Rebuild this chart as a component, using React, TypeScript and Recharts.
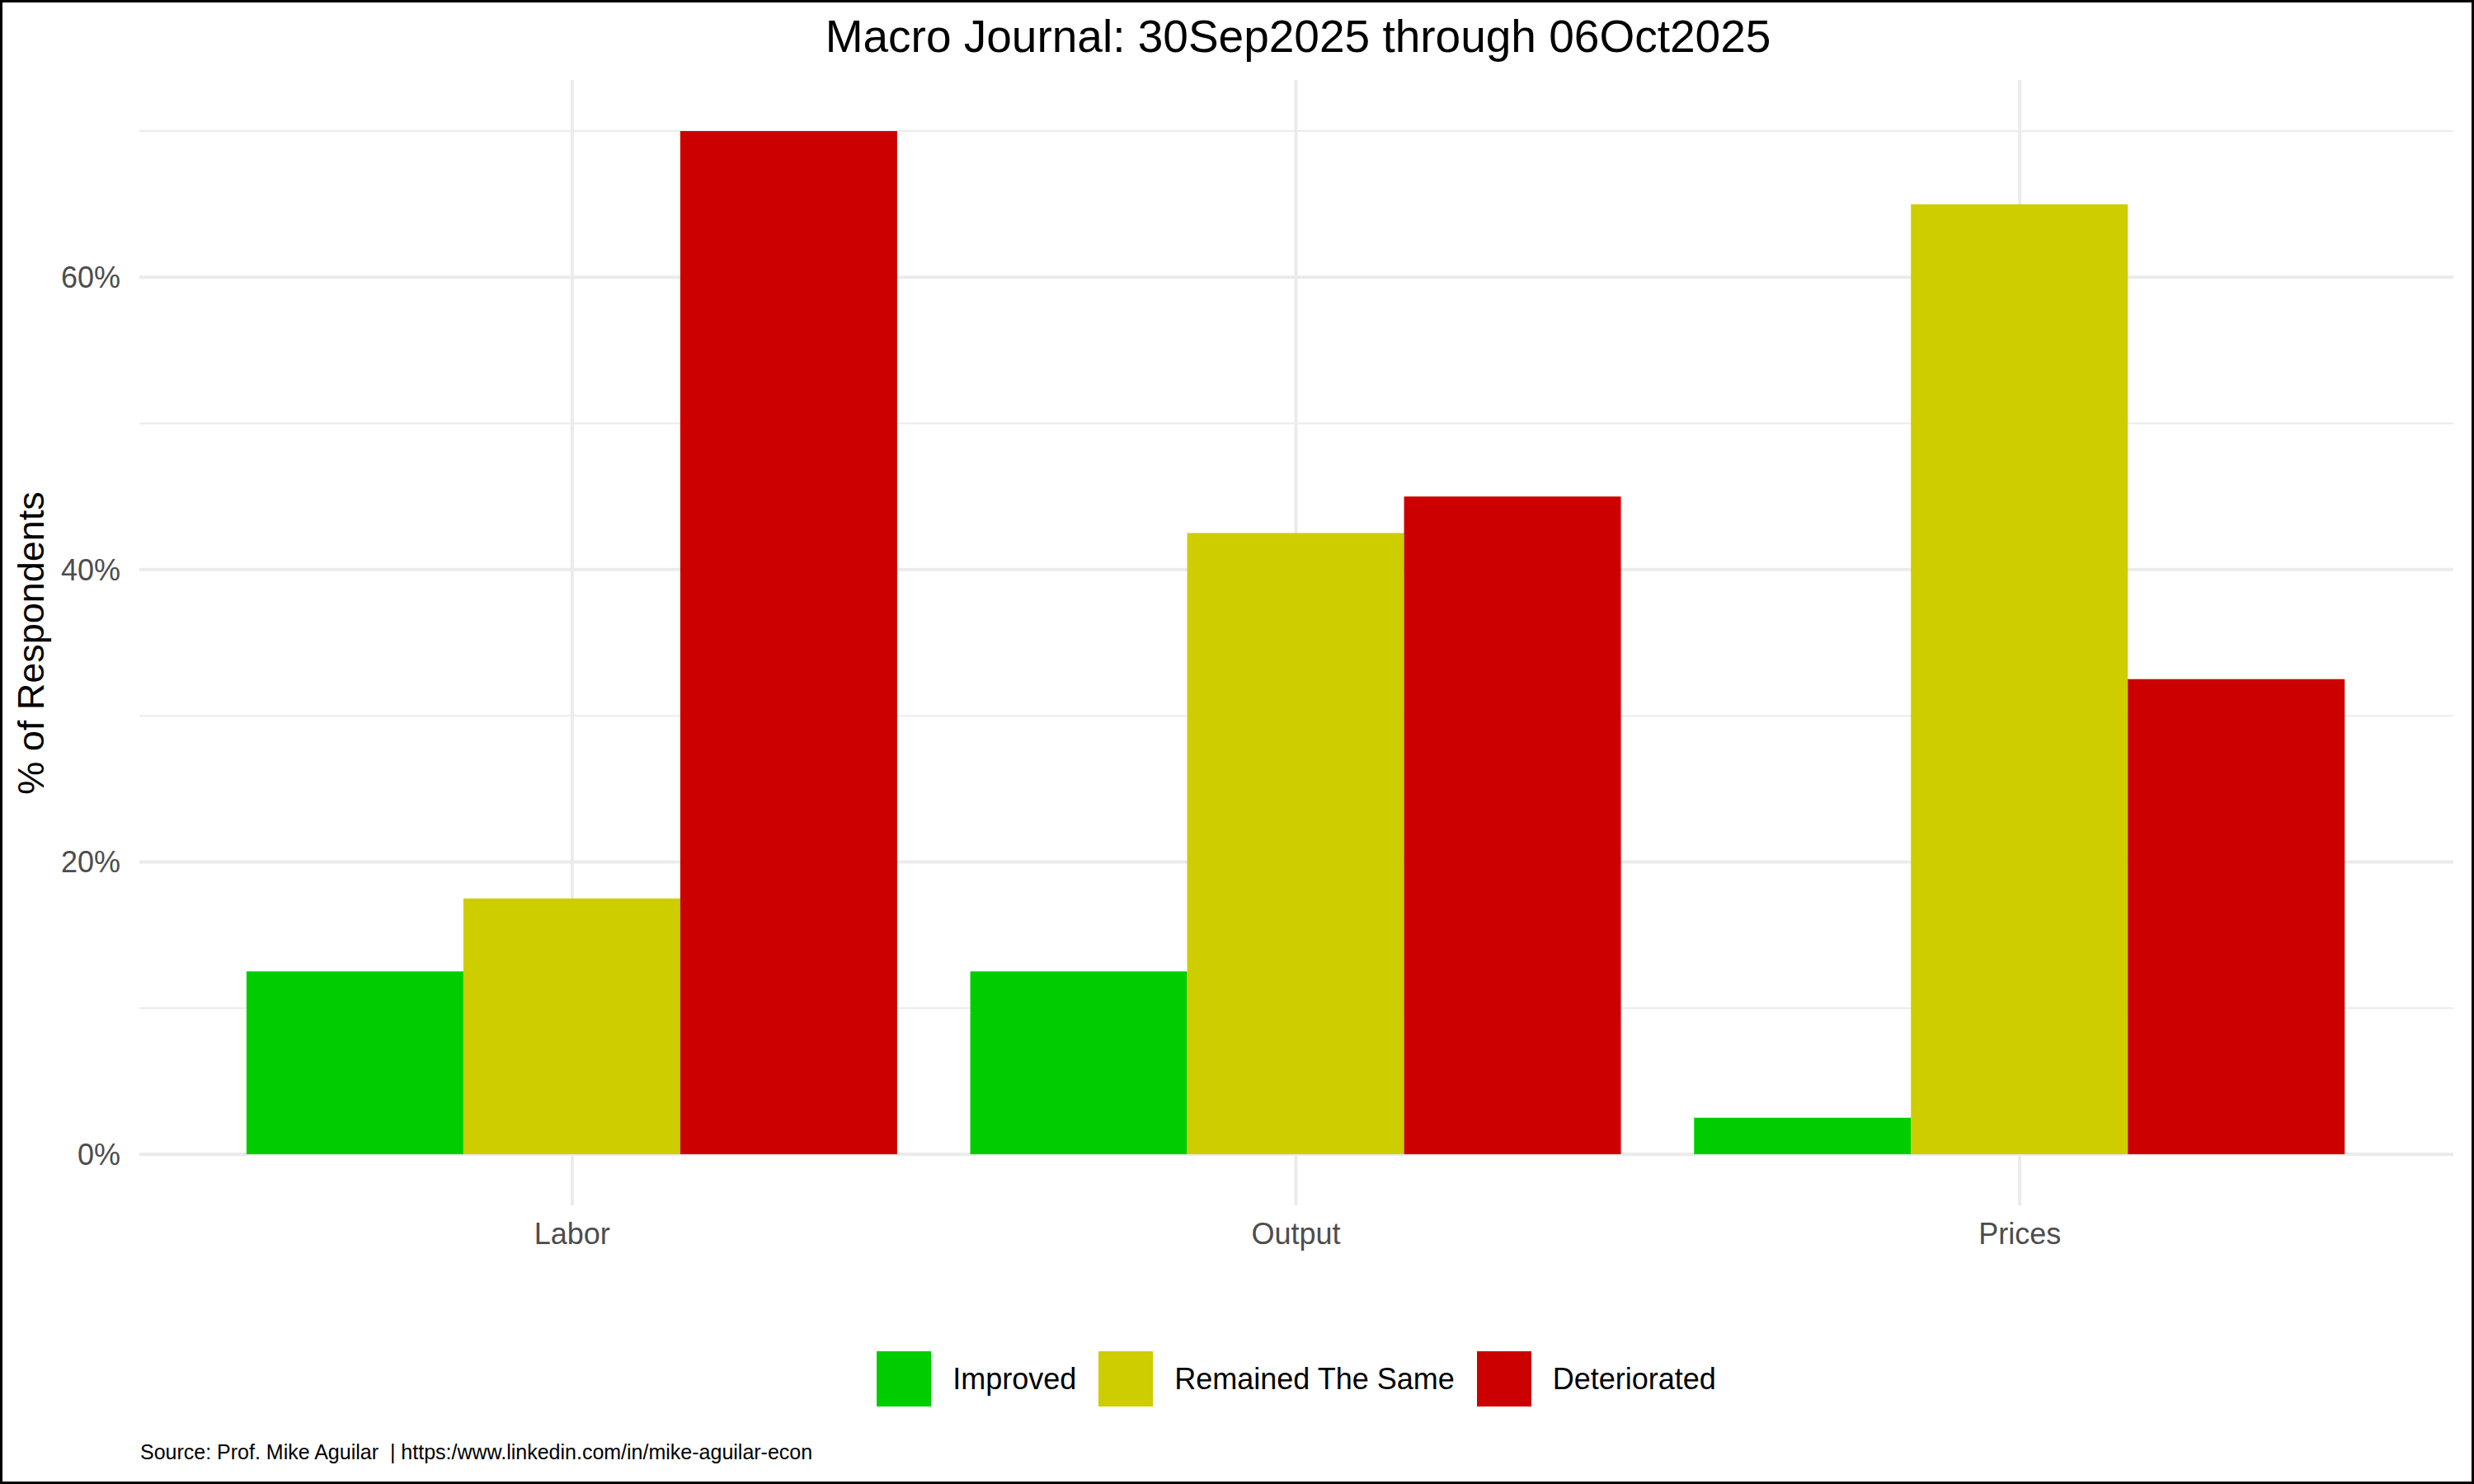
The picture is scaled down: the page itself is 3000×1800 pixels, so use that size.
import { Bar, BarChart, CartesianGrid, Legend, XAxis, YAxis } from 'recharts';

const categories = ['Labor', 'Output', 'Prices'];
const improved = [12.5, 12.5, 2.5];
const remained = [17.5, 42.5, 65];
const deteriorated = [70, 45, 32.5];
const majorTicks = [0, 20, 40, 60];
const minorTicks = [10, 30, 50, 70];
const seriesNames = ['Improved', 'Remained The Same', 'Deteriorated'];
const seriesColors = ['#00CD00', '#CDCD00', '#CD0000'];

const data = categories.map((c, i) => ({
  category: c,
  improved: improved[i],
  remained: remained[i],
  deteriorated: deteriorated[i],
}));

const FONT = '"Liberation Sans", Arial, sans-serif';
const GRID = '#EBEBEB';

function LegendBox({ payload = [] }: any) {
  // keep the order of the series, not alphabetical
  const items = [...payload].sort((a: any, b: any) => seriesNames.indexOf(a.value) - seriesNames.indexOf(b.value));
  return (
    <div style={{ display: 'flex', justifyContent: 'center', alignItems: 'center', height: 67, fontFamily: FONT }}>
      {items.map((p: any, i: number) => (
        <div key={p.value} style={{ display: 'flex', alignItems: 'center', marginRight: i < items.length - 1 ? 27 : 0 }}>
          <div style={{ width: 66, height: 67, background: p.color, marginRight: 26 }} />
          <span style={{ fontSize: 36, color: '#000', whiteSpace: 'nowrap' }}>{p.value}</span>
        </div>
      ))}
    </div>
  );
}

export default function App() {
  return (
    <div style={{ position: 'absolute', left: 0, top: 0, width: 3000, height: 1800, background: '#fff', fontFamily: FONT }}>
      <BarChart
        width={3000}
        height={1800}
        data={data}
        margin={{ top: 97, right: 25, bottom: 278, left: 69 }}
        barCategoryGap="5%"
        barGap={0}
      >
        {/* minor lines thinner than the major ones */}
        <CartesianGrid stroke={GRID} strokeWidth={2} vertical={false} horizontalValues={minorTicks} />
        <CartesianGrid stroke={GRID} strokeWidth={4} syncWithTicks />
        <XAxis
          dataKey="category"
          height={60}
          padding={{ left: 86, right: 87 }}
          tickLine={false}
          axisLine={false}
          tickMargin={15}
          tick={{ fontSize: 36, fill: '#4D4D4D' }}
        />
        <YAxis
          width={100}
          domain={[-3.5, 73.5]}
          ticks={majorTicks}
          tickFormatter={(v) => `${v}%`}
          tickLine={false}
          axisLine={false}
          tickMargin={17}
          tick={{ fontSize: 36, fill: '#4D4D4D' }}
        />
        <Legend
          layout="horizontal"
          verticalAlign="middle"
          align="center"
          content={<LegendBox />}
          wrapperStyle={{ top: 1639, left: 169, width: 2806, height: 67 }}
        />
        <Bar dataKey="improved" name={seriesNames[0]} fill={seriesColors[0]} isAnimationActive={false} />
        <Bar dataKey="remained" name={seriesNames[1]} fill={seriesColors[1]} isAnimationActive={false} />
        <Bar dataKey="deteriorated" name={seriesNames[2]} fill={seriesColors[2]} isAnimationActive={false} />
      </BarChart>
      <svg width={3000} height={1800} style={{ position: 'absolute', left: 0, top: 0, pointerEvents: 'none' }}>
        <text x={1574} y={63} textAnchor="middle" fontSize={55} fill="#000" fontFamily={FONT}>
          Macro Journal: 30Sep2025 through 06Oct2025
        </text>
        <text x={53} y={780} textAnchor="middle" fontSize={45} fill="#000" fontFamily={FONT} transform="rotate(-90 53 780)">
          % of Respondents
        </text>
        <text x={170} y={1770} fontSize={25} fill="#000" fontFamily={FONT} xmlSpace="preserve">
          Source: Prof. Mike Aguilar  | https:/www.linkedin.com/in/mike-aguilar-econ
        </text>
      </svg>
      <div style={{ position: 'absolute', left: 0, top: 0, width: 3000, height: 1800, border: '3px solid #000', boxSizing: 'border-box', pointerEvents: 'none' }} />
    </div>
  );
}
